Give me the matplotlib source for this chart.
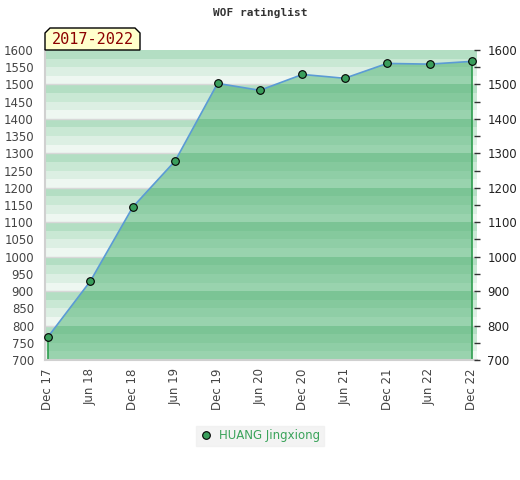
import numpy as np
import matplotlib.pyplot as plt
from matplotlib.patches import Polygon
import matplotlib.patches as mpatches

# data
periods = ["Dec 17", "Jun 18", "Dec 18", "Jun 19", "Dec 19", "Jun 20",
           "Dec 20", "Jun 21", "Dec 21", "Jun 22", "Dec 22"]
rating = [767, 929, 1144, 1278, 1503, 1483, 1529, 1518, 1561, 1559, 1567]
player = "HUANG Jingxiong"
span_label = "2017-2022"
left_ticks = list(range(700, 1601, 50))
right_ticks = list(range(700, 1601, 100))

light_cols = ["#b3dec3", "#c9e8d4", "#dcefe3", "#eef7f1"]
dark_cols = ["#7bc495", "#85c99d", "#8fcea6", "#99d3ae"]

fig = plt.figure(figsize=(5.2, 4.8), dpi=100)
ax = fig.add_axes([45/520, 1-360/480, 432/520, 310/480])
x = np.arange(len(periods))
ax.set_xlim(-0.07, len(periods) - 1 + 0.12)
ax.set_ylim(700, 1600)

# striped background, 4 stripes per 100 points
for base in range(700, 1600, 100):
    for k in range(4):
        top = base + 100 - 25 * k
        ax.axhspan(top - 25, top, color=light_cols[k], lw=0, zorder=0)
for g in range(800, 1600, 100):
    ax.axhline(g, color="#d8d8d8", lw=1, zorder=0.5)

# filled area with darker stripes clipped to it
verts = [(x[0], 700)] + list(zip(x, rating)) + [(x[-1], 700)]
poly = Polygon(verts, closed=True, facecolor="none", edgecolor="none")
ax.add_patch(poly)
for base in range(700, 1600, 100):
    for k in range(4):
        top = base + 100 - 25 * k
        sp = ax.axhspan(top - 25, top, color=dark_cols[k], lw=0, zorder=1)
        sp.set_clip_path(poly)

ax.plot([x[0], x[0]], [700, rating[0]], color="#2e9e4f", lw=1.2, zorder=2)
ax.plot([x[-1], x[-1]], [700, rating[-1]], color="#2e9e4f", lw=1.2, zorder=2)
ax.plot(x, rating, color="#5b9bd5", lw=1.2, zorder=3)
ax.plot(x, rating, ls="none", marker="o", ms=5.5, mfc="#3a9e5c", mec="black",
        mew=0.8, zorder=4, clip_on=False)

ax.set_xticks(x)
ax.set_xticklabels(periods, rotation=90, fontsize=8.5, color="#444444")
ax.tick_params(axis="x", length=0, pad=6)
ax.set_yticks(left_ticks)
ax.set_yticklabels([str(v) for v in left_ticks], fontsize=8.5, color="#444444")
ax.tick_params(axis="y", length=0, pad=8)
for s in ["top", "right"]:
    ax.spines[s].set_visible(False)
for s in ["left", "bottom"]:
    ax.spines[s].set_color("#d0d0d0")
    ax.spines[s].set_linewidth(1.5)

ax2 = ax.twinx()
ax2.set_ylim(700, 1600)
ax2.set_yticks(right_ticks)
ax2.set_yticks(left_ticks, minor=True)
ax2.set_yticklabels([str(v) for v in right_ticks], fontsize=8.5, color="#222222")
ax2.tick_params(axis="y", which="both", direction="inout", length=5, width=1, color="#333333", pad=5)
for s in ["top", "left", "bottom", "right"]:
    ax2.spines[s].set_visible(False)

fig.text(0.5, 1 - 13/480, "WOF ratinglist", ha="center", va="center",
         fontsize=8, family="DejaVu Sans Mono", weight="bold", color="#333333")

# period label box with cut corners
bx0, bx1, by0, by1, c = 45, 140, 430, 452, 5
pts = [(bx0, by0), (bx0, by1 - c), (bx0 + c, by1), (bx1 - c, by1), (bx1, by1 - c), (bx1, by0)]
box = mpatches.Polygon([(px / 520, py / 480) for px, py in pts], closed=True,
                       transform=fig.transFigure, facecolor="#ffffcc", edgecolor="black", lw=1)
fig.patches.append(box)
fig.text((bx0 + bx1) / 2 / 520, (by0 + by1) / 2 / 480 - 0.002, span_label, ha="center", va="center",
         fontsize=11, family="DejaVu Sans Mono", color="#8b0000")

# legend
leg_h = [plt.Line2D([], [], ls="none", marker="o", ms=5.5, mfc="#3a9e5c", mec="black", mew=0.8)]
leg = fig.legend(leg_h, [player], loc="center", bbox_to_anchor=(260/520, 1 - 436/480),
                 frameon=True, fontsize=8.5, handlelength=1, handletextpad=0.6,
                 borderpad=0.3, fancybox=False)
leg.get_frame().set_facecolor("#f0f0f0")
leg.get_frame().set_edgecolor("#f0f0f0")
for t in leg.get_texts():
    t.set_color("#3aa35a")

fig.savefig("out.png", dpi=100)
